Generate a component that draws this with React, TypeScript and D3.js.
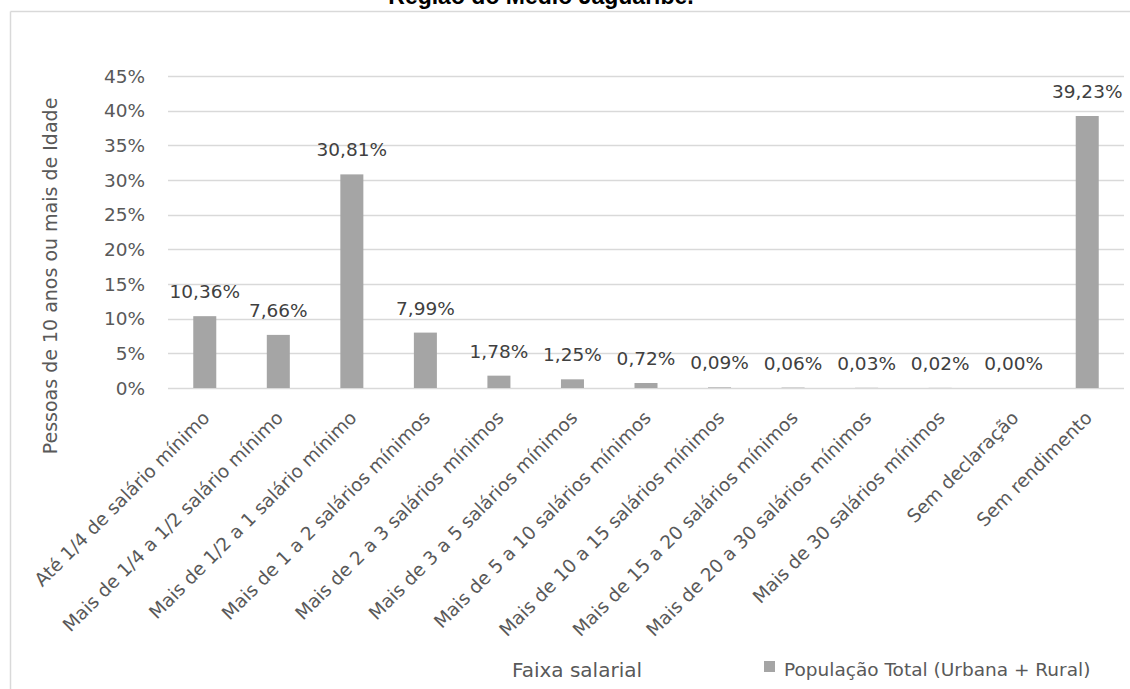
import React from "react";
import * as d3 from "d3";

const categories: string[] = [
  "Até 1/4 de salário mínimo",
  "Mais de 1/4 a 1/2 salário mínimo",
  "Mais de 1/2 a 1 salário mínimo",
  "Mais de 1 a 2 salários mínimos",
  "Mais de 2 a 3 salários mínimos",
  "Mais de 3 a 5 salários mínimos",
  "Mais de 5 a 10 salários mínimos",
  "Mais de 10 a 15 salários mínimos",
  "Mais de 15 a 20 salários mínimos",
  "Mais de 20 a 30 salários mínimos",
  "Mais de 30 salários mínimos",
  "Sem declaração",
  "Sem rendimento",
];

const values: number[] = [10.36, 7.66, 30.81, 7.99, 1.78, 1.25, 0.72, 0.09, 0.06, 0.03, 0.02, 0.0, 39.23];

const yTicks: number[] = [0, 5, 10, 15, 20, 25, 30, 35, 40, 45];

const title = "Região do Médio Jaguaribe.";
const yTitle = "Pessoas de 10 anos ou mais de Idade";
const xTitle = "Faixa salarial";
const seriesName = "População Total (Urbana + Rural)";

const W = 1130;
const H = 689;
const plot = { left: 168, right: 1124, top: 76, bottom: 388 };

const FONT = "'DejaVu Sans', sans-serif";
const TEXT = "#595959";
const GRID = "#d9d9d9";
const BAR = "#a5a5a5";

const fmt = (v: number) => v.toFixed(2).replace(".", ",") + "%";

export default function App() {
  const x = d3
    .scaleBand<string>()
    .domain(categories)
    .range([plot.left, plot.right])
    .paddingInner(0.687)
    .paddingOuter(0.3435);
  const y = d3.scaleLinear().domain([0, 45]).range([plot.bottom, plot.top]);

  return (
    <svg
      width={W}
      height={H}
      style={{ position: "absolute", left: 0, top: 0, background: "#fff" }}
      fontFamily={FONT}
    >
      <rect x={0} y={0} width={W} height={H} fill="#fff" />
      {/* chart area frame */}
      <line x1={10.5} x2={W} y1={11.5} y2={11.5} stroke={GRID} strokeWidth={1.5} />
      <line x1={10.5} x2={10.5} y1={11.5} y2={H} stroke={GRID} strokeWidth={1.5} />

      <text
        x={541}
        y={4}
        textAnchor="middle"
        fontFamily="'Liberation Sans', Arial, sans-serif"
        fontWeight="bold"
        fontSize={23}
        fill="#000"
      >
        {title}
      </text>

      {/* gridlines and y ticks */}
      {yTicks.map((t) => (
        <g key={t}>
          <line
            x1={plot.left}
            x2={plot.right}
            y1={Math.round(y(t)) + 0.5}
            y2={Math.round(y(t)) + 0.5}
            stroke={GRID}
            strokeWidth={1.3}
          />
          <text x={145} y={y(t) + 6.5} textAnchor="end" fontSize={18.5} fill={TEXT}>
            {t + "%"}
          </text>
        </g>
      ))}

      {/* bars and value labels */}
      {categories.map((c, i) => {
        const bx = x(c) as number;
        const cx = bx + x.bandwidth() / 2;
        const top = y(values[i]);
        return (
          <g key={c}>
            <rect x={bx} y={top} width={x.bandwidth()} height={plot.bottom - top} fill={BAR} />
            <text x={cx} y={top - 18} textAnchor="middle" fontSize={18.5} fill="#404040">
              {fmt(values[i])}
            </text>
          </g>
        );
      })}

      {/* category labels */}
      {categories.map((c) => {
        const cx = (x(c) as number) + x.bandwidth() / 2;
        return (
          <text
            key={c}
            transform={`translate(${cx + 6},${plot.bottom + 31}) rotate(-45)`}
            textAnchor="end"
            fontSize={18.5}
            fill={TEXT}
          >
            {c}
          </text>
        );
      })}

      <text
        transform={`translate(57,276) rotate(-90)`}
        textAnchor="middle"
        fontSize={19}
        fill={TEXT}
      >
        {yTitle}
      </text>

      <text x={577} y={677} textAnchor="middle" fontSize={20} fill={TEXT}>
        {xTitle}
      </text>

      <rect x={764} y={661} width={11} height={11} fill={BAR} />
      <text x={784} y={676} fontSize={18.5} fill={TEXT}>
        {seriesName}
      </text>
    </svg>
  );
}
